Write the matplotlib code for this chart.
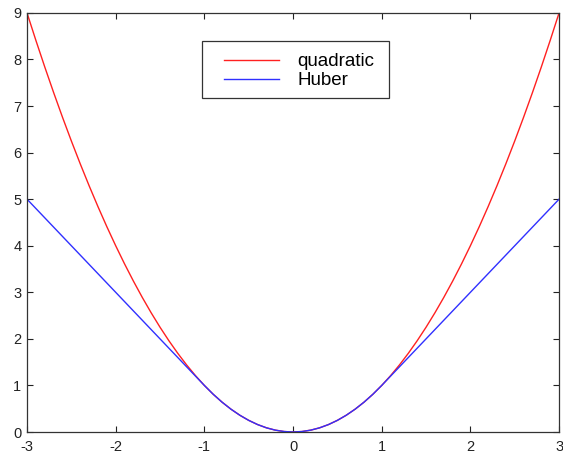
import matplotlib
matplotlib.use("Agg")
import matplotlib.pyplot as plt
from matplotlib.patches import Rectangle

x_vals = [-3.0, -2.9, -2.8, -2.7, -2.6, -2.5, -2.4, -2.3, -2.2, -2.1, -2.0,
          -1.9, -1.8, -1.7, -1.6, -1.5, -1.4, -1.3, -1.2, -1.1, -1.0,
          -0.9, -0.8, -0.7, -0.6, -0.5, -0.4, -0.3, -0.2, -0.1, 0.0,
          0.1, 0.2, 0.3, 0.4, 0.5, 0.6, 0.7, 0.8, 0.9, 1.0,
          1.1, 1.2, 1.3, 1.4, 1.5, 1.6, 1.7, 1.8, 1.9, 2.0,
          2.1, 2.2, 2.3, 2.4, 2.5, 2.6, 2.7, 2.8, 2.9, 3.0]
quadratic = [9.00, 8.41, 7.84, 7.29, 6.76, 6.25, 5.76, 5.29, 4.84, 4.41, 4.00,
             3.61, 3.24, 2.89, 2.56, 2.25, 1.96, 1.69, 1.44, 1.21, 1.00,
             0.81, 0.64, 0.49, 0.36, 0.25, 0.16, 0.09, 0.04, 0.01, 0.00,
             0.01, 0.04, 0.09, 0.16, 0.25, 0.36, 0.49, 0.64, 0.81, 1.00,
             1.21, 1.44, 1.69, 1.96, 2.25, 2.56, 2.89, 3.24, 3.61, 4.00,
             4.41, 4.84, 5.29, 5.76, 6.25, 6.76, 7.29, 7.84, 8.41, 9.00]
huber = [5.0, 4.8, 4.6, 4.4, 4.2, 4.0, 3.8, 3.6, 3.4, 3.2, 3.0,
         2.8, 2.6, 2.4, 2.2, 2.0, 1.8, 1.6, 1.4, 1.2, 1.00,
         0.81, 0.64, 0.49, 0.36, 0.25, 0.16, 0.09, 0.04, 0.01, 0.00,
         0.01, 0.04, 0.09, 0.16, 0.25, 0.36, 0.49, 0.64, 0.81, 1.00,
         1.2, 1.4, 1.6, 1.8, 2.0, 2.2, 2.4, 2.6, 2.8, 3.0,
         3.2, 3.4, 3.6, 3.8, 4.0, 4.2, 4.4, 4.6, 4.8, 5.0]
x_ticks = [-3, -2, -1, 0, 1, 2, 3]
y_ticks = [0, 1, 2, 3, 4, 5, 6, 7, 8, 9]

plt.rcParams['font.family'] = ['Liberation Sans', 'DejaVu Sans']
plt.rcParams['axes.unicode_minus'] = False

fig = plt.figure(figsize=(5.63, 4.57), dpi=100)
ax = fig.add_axes([0.048, 0.0547, 0.945, 0.917])
ax.plot(x_vals, quadratic, color='#ff2020', lw=1.0, label='quadratic')
ax.plot(x_vals, huber, color='#3030ff', lw=1.0, label='Huber')
ax.set_xlim(-3, 3)
ax.set_ylim(0, 9)
ax.set_xticks(x_ticks)
ax.set_yticks(y_ticks)
ax.tick_params(direction='in', top=True, right=True, length=4, width=0.8,
               labelsize=10.5, colors='#222222')
ax.tick_params(axis='x', pad=6)
ax.tick_params(axis='y', pad=4)
for s in ax.spines.values():
    s.set_linewidth(0.9)
    s.set_color('#333333')

# legend frame drawn separately (asymmetric padding as in reference)
ax.add_patch(Rectangle((0.329, 0.797), 0.351, 0.136, transform=ax.transAxes,
                       facecolor='white', edgecolor='#333333', lw=0.9, zorder=4))
leg = ax.legend(loc='upper left', bbox_to_anchor=(0.371, 0.904), fontsize=13.5,
                handlelength=2.9, handletextpad=1.0, borderpad=0,
                labelspacing=0.1, frameon=False, borderaxespad=0)
leg.set_zorder(5)
fig.savefig('out.png', dpi=100)
